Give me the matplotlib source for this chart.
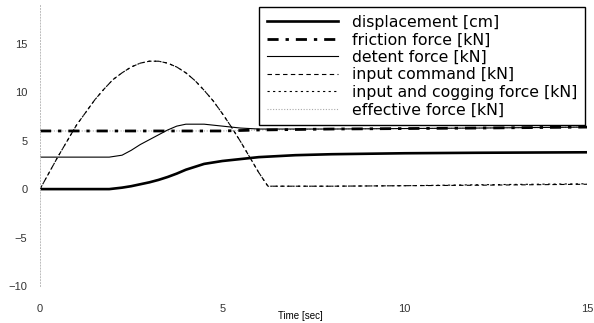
import matplotlib.pyplot as plt
import numpy as np

plt.rcParams['font.family'] = ['Liberation Sans', 'DejaVu Sans']

# time axis [sec] for the two slow curves
t = [0, 1, 1.9, 2.25, 2.5, 2.75, 3, 3.25, 3.5, 3.75, 4, 4.5, 5, 5.5, 6, 7, 8, 10, 12, 15]
displacement = [0, 0, 0, 0.15, 0.3, 0.5, 0.7, 0.95, 1.25, 1.6, 2.0, 2.6, 2.9, 3.1, 3.3, 3.5, 3.6, 3.7, 3.75, 3.8]
detent = [3.3, 3.3, 3.3, 3.5, 4.0, 4.6, 5.1, 5.6, 6.1, 6.5, 6.7, 6.7, 6.5, 6.3, 6.2, 6.2, 6.2, 6.25, 6.3, 6.4]
friction = [6.0, 6.0, 6.0, 6.0, 6.0, 6.0, 6.0, 6.0, 6.0, 6.0, 6.0, 6.0, 6.0, 6.05, 6.1, 6.15, 6.2, 6.25, 6.3, 6.4]
effective = [6.0, 6.0, 6.0, 6.0, 6.0, 6.0, 6.0, 6.0, 6.0, 6.0, 6.0, 6.0, 6.0, 6.05, 6.1, 6.15, 6.2, 6.25, 6.3, 6.4]

# time axis [sec] for the command curves
t_cmd = [0, 0.25, 0.5, 0.75, 1, 1.25, 1.5, 1.75, 2, 2.25, 2.5, 2.75, 3, 3.25, 3.5, 3.75, 4, 4.25,
         4.5, 4.75, 5, 5.25, 5.5, 5.75, 6, 6.25, 7, 8, 10, 12, 15]
input_cmd = [0, 1.7, 3.4, 5.0, 6.6, 7.9, 9.2, 10.3, 11.3, 12.0, 12.6, 13.0, 13.2, 13.2, 13.0, 12.6,
             12.0, 11.2, 10.2, 9.1, 7.8, 6.4, 4.9, 3.3, 1.7, 0.3, 0.3, 0.3, 0.35, 0.4, 0.5]
input_cogging = [0, 1.7, 3.4, 5.0, 6.6, 7.9, 9.2, 10.3, 11.3, 12.0, 12.6, 13.0, 13.2, 13.2, 13.0, 12.6,
                 12.0, 11.2, 10.2, 9.1, 7.8, 6.4, 4.9, 3.3, 1.7, 0.3, 0.3, 0.3, 0.35, 0.45, 0.55]

labels = ["displacement [cm]", "friction force [kN]", "detent force [kN]",
          "input command [kN]", "input and cogging force [kN]", "effective force [kN]"]

fig = plt.figure(figsize=(5.94, 3.23), dpi=100)
W, H = 594, 323
ax = fig.add_axes([40 / W, (H - 286) / H, 547 / W, (286 - 5) / H])

ax.plot(t_cmd, input_cogging, color='black', lw=0.8, dashes=[2, 3], label=labels[4])
ax.plot(t_cmd, input_cmd, color='black', lw=0.8, dashes=[4, 3], label=labels[3])
ax.plot(t, effective, color='#aaaaaa', lw=0.8, dashes=[1, 1.5], label=labels[5])
ax.plot(t, detent, color='black', lw=0.8, label=labels[2])
ax.plot(t, friction, color='black', lw=2.0, dashes=[4, 2.5, 1.2, 2.5], label=labels[1])
ax.plot(t, displacement, color='black', lw=1.9, label=labels[0])

ax.set_xlim(0, 15)
ax.set_ylim(-10, 19)
ax.set_xticks([0, 5, 10, 15])
ax.set_yticks([-10, -5, 0, 5, 10, 15])
ax.tick_params(length=0, labelsize=8, colors='#333333')
ax.tick_params(axis='x', pad=13)
ax.tick_params(axis='y', pad=9)

for s in ['top', 'right', 'bottom']:
    ax.spines[s].set_visible(False)
ax.spines['left'].set_color('#bbbbbb')
ax.spines['left'].set_linestyle((0, (1, 2)))
ax.spines['left'].set_linewidth(0.7)

ax.set_xlabel("Time [sec]", fontsize=7)
ax.xaxis.set_label_coords((300 - 40) / 547, -0.088)

handles, labs = ax.get_legend_handles_labels()
order = [labs.index(l) for l in labels]
leg = ax.legend([handles[i] for i in order], labels, loc='upper right',
                bbox_to_anchor=(585 / W, 1 - 7 / H), bbox_transform=fig.transFigure,
                prop={'family': 'DejaVu Sans', 'size': 11.3},
                handlelength=4.5, labelspacing=0.16, handletextpad=0.9,
                borderpad=0.5, borderaxespad=0, fancybox=False, framealpha=1)
leg.get_frame().set_edgecolor('black')
leg.get_frame().set_linewidth(1.0)

plt.savefig("out.png", dpi=100)
